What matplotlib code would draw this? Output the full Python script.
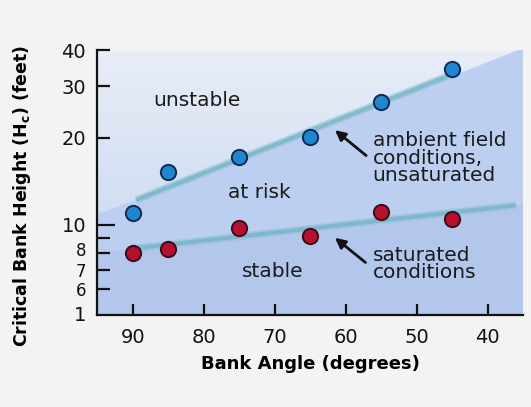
import numpy as np
import matplotlib
matplotlib.use("Agg")
import matplotlib.pyplot as plt
from matplotlib.colors import LinearSegmentedColormap
from matplotlib.transforms import ScaledTranslation

# Measured critical bank heights
angles = [90, 85, 75, 65, 55, 45]
ambient_heights = [11.0, 15.2, 17.2, 20.1, 26.5, 34.3]
saturated_heights = [8.0, 8.3, 9.8, 9.2, 11.1, 10.5]

# Region boundaries (unstable / at risk / stable)
upper_bound_x = [95, 89.5, 35]
upper_bound_y = [10.9, 12.2, 40.6]
lower_bound_x = [95, 90, 35]
lower_bound_y = [8.1, 8.3, 11.8]

# Trend strokes drawn over the boundaries
ambient_trend_x = [89.5, 45]
ambient_trend_y = [12.2, 33.0]
saturated_trend_x = [90, 36]
saturated_trend_y = [8.3, 11.7]

x_ticks = [90, 80, 70, 60, 50, 40]
y_ticks = [40, 30, 20, 10, 9, 8, 7, 6]
y_tick_labels = ["40", "30", "20", "10", "", "8", "7", "6"]

XMIN, XMAX = 95, 35
YMIN, YMAX = 4.9, 40

fig = plt.figure(figsize=(5.31, 4.07), dpi=100)
fig.patch.set_facecolor("#f3f3f3")
ax = fig.add_axes([0.183, 0.226, 0.802, 0.651])
ax.set_yscale("log")
ax.set_xlim(XMIN, XMAX)
ax.set_ylim(YMIN, YMAX)
ax.set_facecolor("none")

# Gradient backdrop for the unstable zone
grad = np.linspace(0, 1, 256).reshape(-1, 1)
cmap_top = LinearSegmentedColormap.from_list("top", ["#cbd9f1", "#dfe7f5", "#e9eef8"])
ax.imshow(grad, cmap=cmap_top, aspect="auto", origin="lower",
          extent=[XMIN, XMAX, YMIN, YMAX], zorder=0)

# At-risk zone
risk_x = upper_bound_x + lower_bound_x[::-1]
risk_y = upper_bound_y + lower_bound_y[::-1]
ax.fill(risk_x, risk_y, color="#bdcff0", lw=0, zorder=1)
# Stable zone
stable_x = lower_bound_x + [XMAX, XMIN]
stable_y = lower_bound_y + [YMIN, YMIN]
ax.fill(stable_x, stable_y, color="#b3c7ed", lw=0, zorder=1)

# Trend strokes
for tx, ty in [(ambient_trend_x, ambient_trend_y), (saturated_trend_x, saturated_trend_y)]:
    ax.plot(tx, ty, color="#8cc2d2", lw=5.5, alpha=0.5, solid_capstyle="butt", zorder=2)
    ax.plot(tx, ty, color="#74b3c8", lw=3.0, alpha=0.75, solid_capstyle="butt", zorder=2)

# Points
ax.plot(angles, ambient_heights, "o", ms=11, mfc="#1f86cf", mec="#0f2a55", mew=1.4, zorder=4)
ax.plot(angles, saturated_heights, "o", ms=11, mfc="#b5112e", mec="#3a0a18", mew=1.4, zorder=4)

# Region labels
txt_kw = dict(fontsize=14.5, color="#1a1a1a", zorder=5)
ax.text(81, 26.8, "unstable", ha="center", va="center", **txt_kw)
ax.text(72.1, 12.9, "at risk", ha="center", va="center", **txt_kw)
ax.text(70.2, 6.93, "stable", ha="center", va="center", **txt_kw)
ax.text(56.2, 17.0, "ambient field\nconditions,\nunsaturated", ha="left", va="center",
        linespacing=0.9, **txt_kw)
ax.text(56.2, 7.35, "saturated\nconditions", ha="left", va="center",
        linespacing=0.9, **txt_kw)

arrow_kw = dict(arrowstyle="-|>,head_length=0.6,head_width=0.3", color="#111111", lw=2)
ax.annotate("", xy=(61.8, 21.5), xytext=(56.8, 17.1), arrowprops=arrow_kw, zorder=5)
ax.annotate("", xy=(61.8, 9.16), xytext=(56.9, 7.33), arrowprops=arrow_kw, zorder=5)

# Axes styling
for s in ["top", "right"]:
    ax.spines[s].set_visible(False)
for s in ["left", "bottom"]:
    ax.spines[s].set_linewidth(1.6)
    ax.spines[s].set_color("#111111")
    ax.spines[s].set_zorder(6)

ax.set_xticks(x_ticks)
ax.set_xticklabels([str(v) for v in x_ticks])
ax.tick_params(axis="x", direction="in", length=8, width=1.6, labelsize=14, pad=9,
               colors="#111111")

ax.yaxis.set_minor_locator(matplotlib.ticker.NullLocator())
ax.set_yticks(y_ticks)
ax.set_yticklabels(y_tick_labels)
ax.tick_params(axis="y", direction="in", length=9, width=1.6, labelsize=14, pad=8,
               colors="#111111")
for tick in ax.yaxis.get_major_ticks():
    loc = tick.get_loc()
    if loc == 10:
        tick.tick1line.set_markersize(13)
    if loc in (8, 7, 6):
        tick.label1.set_fontsize(12)
    if loc == 8:
        # nudge the crowded "8" label up a little
        tick.label1.set_transform(tick.label1.get_transform()
                                  + ScaledTranslation(0, 3 / 72, fig.dpi_scale_trans))
ax.text(-0.04, 0, "1", transform=ax.transAxes, ha="center", va="center",
        fontsize=14, color="#111111")

ax.set_xlabel("Bank Angle (degrees)", fontsize=13, fontweight="bold", labelpad=6)
ax.set_ylabel(r"Critical Bank Height (H$_{\mathbf{c}}$) (feet)", fontsize=12.5,
              fontweight="bold")
ax.yaxis.set_label_coords(-0.15, 0.45)

fig.savefig("out.png", dpi=100, facecolor=fig.get_facecolor())
